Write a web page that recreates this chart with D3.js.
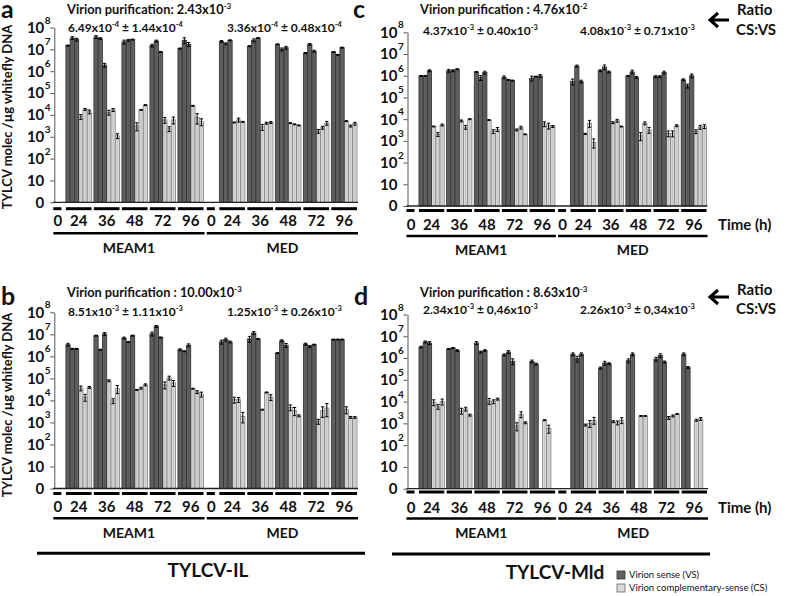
<!DOCTYPE html>
<html><head><meta charset="utf-8">
<script src="https://cdn.jsdelivr.net/npm/d3@7"></script>
<style>
body{margin:0;background:#fff}
svg{display:block}
text{font-family:Lato,"Open Sans",sans-serif;font-weight:700;fill:#111}
</style>
</head><body>
<svg id="chart" width="787" height="596"></svg>
<script>
// ---------- categories & tick labels ----------
const populations = ["MEAM1", "MED"];
const times = ["24", "36", "48", "72", "96"];
const timeLabels = ["0", "24", "36", "48", "72", "96"];
const yTicks = [1, 10, 1e2, 1e3, 1e4, 1e5, 1e6, 1e7, 1e8];
const yTickBase = ["0", "10", "10", "10", "10", "10", "10", "10", "10"];
const yTickSup = ["", "", "2", "3", "4", "5", "6", "7", "8"];
const seriesNames = ["Virion sense (VS)", "Virion complementary-sense (CS)"];

// ---------- values: 3 replicates per time point (24,36,48,72,96) ----------
// Panel a
const aMEAM1VS = [1.5e7,3.3e7,2.8e7, 3.7e7,3.1e7,1.9e6, 2.2e7,2.6e7,2.8e7, 1.5e7,2.4e7,7.6e6, 1.1e7,2.6e7,1.7e7];
const aMEAM1CS = [8.3e3,1.8e4,1.4e4, 1.3e4,1.7e4,1.1e3, 3.1e3,1.7e4,2.8e4, 5.9e3,2.3e3,5.9e3, 2.6e4,7.6e3,4.9e3];
const aMEDVS   = [2.3e7,1.8e7,2.6e7, 1.4e7,2.6e7,3.3e7, 1.7e7,1.0e7,1.2e7, 6.8e6,1.7e7,8.3e6, 7.6e6,5.6e6,1.2e7];
const aMEDCS   = [4.5e3,5.9e3,4.8e3, 2.8e3,4.2e3,4.5e3, 4.2e3,3.7e3,3.3e3, 1.8e3,2.6e3,4.2e3, 5.2e3,3.1e3,4.0e3];
// Panel b
const bMEAM1VS = [3.4e6,2.2e6,2.2e6, 8.7e6,2.0e6,1.05e7, 6.8e6,4.5e6,8.7e6, 1.05e7,2.3e7,7.2e6, 2.0e6,1.7e6,3.2e6];
const bMEAM1CS = [3.6e4,1.4e4,3.9e4, 7.8e4,9.5e3,3.4e4, 3.0e4,3.6e4,5.1e4, 5.1e4,1.05e5,6.2e4, 3.4e4,2.4e4,1.9e4];
const bMEDVS   = [4.5e6,5.8e6,4.5e6, 6.2e6,1.15e7,6.2e6, 1.4e6,5.1e6,3.2e6, 3.6e6,2.8e6,3.4e6, 5.8e6,5.8e6,5.8e6];
const bMEDCS   = [1.07e4,1.07e4,1.9e3, 3.8e3,2.3e4,1.4e4, 4.8e3,3.4e3,2.0e3, 1.1e3,3.4e3,4.5e3, 3.8e3,1.7e3,1.7e3];
// Panel c
const cMEAM1VS = [9.8e5,9.8e5,1.7e6, 1.7e6,1.7e6,2.0e6, 1.5e6,8.1e5,1.4e6, 8.5e5,6.5e5,6.0e5, 7.6e5,9.1e5,9.8e5];
const cMEAM1CS = [4.6e3,2.0e3,5.4e3, 8.3e3,4.3e3,1.0e4, 9.1e3,2.7e3,3.4e3, 3.2e3,4.1e3,2.0e3, 6.0e3,5.0e3,4.6e3];
const cMEDVS   = [5.4e5,2.8e6,5.4e5, 1.7e6,2.5e6,1.5e6, 9.8e5,1.5e6,8.5e5, 9.1e5,9.1e5,1.4e6, 6.5e5,3.4e5,1.0e6];
const cMEDCS   = [2.1e3,6.5e3,8.5e2, 6.9e3,8.5e3,4.6e3, 1.7e3,6.5e3,3.2e3, 2.2e3,2.2e3,5.0e3, 2.7e3,4.3e3,4.6e3];
// Panel d
const dMEAM1VS = [3.2e6,5.5e6,4.9e6, 2.6e6,2.9e6,2.2e6, 4.9e6,1.9e6,2.2e6, 1.4e6,1.9e6,7.1e5, 7.0e5,5.3e5,null];
const dMEAM1CS = [9.3e3,5.9e3,1.0e4, 3.8e3,4.6e3,2.4e3, 1.07e4,1.0e4,1.3e4, 7.6e2,2.6e3,1.07e3, 1.4e3,5.9e2,null];
const dMEDVS   = [1.5e6,9.3e5,1.5e6, 3.5e5,5.9e5,5.5e5, 7.6e5,1.5e6,null, 9.0e5,1.3e6,6.6e5, 1.5e6,3.7e5,null];
const dMEDCS   = [8.4e2,1.0e3,1.4e3, 1.2e3,1.07e3,1.4e3, 2.2e3,2.2e3,null, 1.8e3,2.2e3,2.7e3, 1.4e3,1.6e3,null];

// ---------- relative standard errors (fraction of value) ----------
const aMEAM1VSerr = [.05,.15,.15, .15,.1,.2, .2,.1,.05, .15,.1,.05, .05,.3,.2];
const aMEAM1CSerr = [.25,.1,.2, .25,.15,.25, .4,.05,.05, .3,.25,.35, .05,.5,.35];
const aMEDVSerr   = [.1,.1,.05, .05,.15,.05, .05,.15,.15, .05,.1,.1, .05,.05,.05];
const aMEDCSerr   = [.05,.2,.05, .3,.1,.1, .05,.05,.05, .2,.15,.2, .05,.1,.15];
const bMEAM1VSerr = [.15,.05,.05, .05,.05,.15, .1,.05,.05, .2,.1,.05, .1,.05,.15];
const bMEAM1CSerr = [.25,.35,.1, .1,.25,.4, .05,.1,.1, .35,.2,.3, .05,.15,.25];
const bMEDVSerr   = [.2,.15,.1, .3,.15,.05, .05,.1,.2, .1,.1,.05, .05,.05,.05];
const bMEDCSerr   = [.3,.25,.5, .05,.05,.3, .3,.4,.1, .25,.5,.6, .35,.1,.1];
const cMEAM1VSerr = [.05,.05,.1, .15,.1,.05, .05,.25,.15, .15,.05,.05, .25,.05,.15];
const cMEAM1CSerr = [.05,.2,.1, .1,.2,.05, .05,.2,.2, .1,.15,.05, .25,.3,.1];
const cMEDVSerr   = [.3,.1,.15, .1,.25,.1, .05,.2,.1, .1,.1,.15, .1,.2,.2];
const cMEDCSerr   = [.05,.35,.45, .1,.15,.05, .4,.15,.3, .3,.3,.1, .2,.2,.2];
const dMEAM1VSerr = [.1,.1,.15, .05,.05,.1, .15,.1,.1, .1,.15,.3, .15,.1,null];
const dMEAM1CSerr = [.3,.25,.3, .3,.2,.1, .3,.2,.1, .4,.3,.1, .05,.4,null];
const dMEDVSerr   = [.15,.3,.15, .1,.2,.1, .2,.15,null, .2,.2,.1, .15,.1,null];
const dMEDCSerr   = [.1,.35,.35, .1,.2,.3, .05,.05,null, .15,.1,.05, .1,.15,null];

// ---------- annotation texts ----------
const purificationTexts = ["Virion purification: 2.43x10^{-3}", "Virion purification : 10.00x10^{-3}",
                           "Virion purification : 4.76x10^{-2}", "Virion purification : 8.63x10^{-3}"];
const ratioTexts = [
  ["6.49x10^{-4} ± 1.44x10^{-4}", "3.36x10^{-4} ± 0.48x10^{-4}"],
  ["8.51x10^{-3} ± 1.11x10^{-3}", "1.25x10^{-3} ± 0.26x10^{-3}"],
  ["4.37x10^{-3} ± 0.40x10^{-3}", "4.08x10^{-3} ± 0.71x10^{-3}"],
  ["2.34x10^{-3} ± 0,46x10^{-3}", "2.26x10^{-3} ± 0,34x10^{-3}"]
];
const virusNames = ["TYLCV-IL", "TYLCV-Mld"];
const panelLetters = ["a", "b", "c", "d"];

// ---------- drawing ----------
const svg = d3.select("#chart");
const DARK = "#626262", LIGHT = "#dadada";

function rich(t, str, size) {
  const sup = size * 0.62;
  let raised = false;
  str.split(/(\^\{[^}]*\})/).filter(Boolean).forEach(p => {
    if (p.startsWith("^{")) {
      t.append("tspan").attr("font-size", sup).attr("dy", -size * 0.42).text(p.slice(2, -1));
      raised = true;
    } else {
      t.append("tspan").attr("font-size", size).attr("dy", raised ? size * 0.42 : 0).text(p);
      raised = false;
    }
  });
}

const panels = [
  {vs:[aMEAM1VS,aMEDVS], cs:[aMEAM1CS,aMEDCS], vsE:[aMEAM1VSerr,aMEDVSerr], csE:[aMEAM1CSerr,aMEDCSerr],
   x0:53.3, x1:357, yTop:27.5, yBase:202.3, seg:208.7, lab:221, brk:233.3, pop:248,
   title:[67,14], ratio:[[68,32],[227,32]], letter:[1,18], yTitle:117, time:null},
  {vs:[bMEAM1VS,bMEDVS], cs:[bMEAM1CS,bMEDCS], vsE:[bMEAM1VSerr,bMEDVSerr], csE:[bMEAM1CSerr,bMEDCSerr],
   x0:53.3, x1:357, yTop:312.3, yBase:488.5, seg:493.5, lab:506.7, brk:518.3, pop:533,
   title:[67,297], ratio:[[68,316],[227,316]], letter:[1,305], yTitle:405, time:null},
  {vs:[cMEAM1VS,cMEDVS], cs:[cMEAM1CS,cMEDCS], vsE:[cMEAM1VSerr,cMEDVSerr], csE:[cMEAM1CSerr,cMEDCSerr],
   x0:406.5, x1:706.5, yTop:32.3, yBase:206, seg:210.5, lab:225, brk:236, pop:250,
   title:[420,14], ratio:[[423,35],[580,35]], letter:[353,18], yTitle:null, time:225},
  {vs:[dMEAM1VS,dMEDVS], cs:[dMEAM1CS,dMEDCS], vsE:[dMEAM1VSerr,dMEDVSerr], csE:[dMEAM1CSerr,dMEDCSerr],
   x0:406.5, x1:707, yTop:314.5, yBase:488.7, seg:492, lab:508, brk:518.5, pop:533,
   title:[420,297], ratio:[[423,314],[580,314]], letter:[354,305], yTitle:null, time:507.5}
];

// unit layout of the category axis
const zeroW = 1.9, zeroGap = 1.05, groupGap = 0.56, popGap = 0.75, nRep = 3;
const popW = zeroW + zeroGap + times.length * 2 * nRep + (times.length - 1) * groupGap;
const totalU = populations.length * popW + (populations.length - 1) * popGap;
const popStart = p => p * (popW + popGap);
const groupStart = (p, g) => popStart(p) + zeroW + zeroGap + g * (2 * nRep + groupGap);

panels.forEach((P, pi) => {
  const g = svg.append("g");
  const x = d3.scaleLinear().domain([0, totalU]).range([P.x0, P.x1]);
  const y = d3.scaleLog().domain([1, 1e8]).range([P.yBase, P.yTop]);
  const bw = x(1) - x(0);

  // y axis (ticks + line)
  const ax = g.append("g").attr("transform", `translate(${P.x0 + 1},0)`)
    .call(d3.axisLeft(y).tickValues(yTicks).tickFormat("").tickSize(4).tickSizeOuter(0));
  ax.selectAll("path,line").attr("stroke", "#555").attr("stroke-width", 1);

  // y tick labels
  const lx = P.x0 - 9;
  yTicks.forEach((v, i) => {
    g.append("text").attr("x", lx).attr("y", y(v)).attr("dy", "0.36em")
      .attr("text-anchor", "end").attr("font-size", 15).text(yTickBase[i]);
    if (yTickSup[i]) g.append("text").attr("x", lx + 0.5).attr("y", y(v) - 4)
      .attr("font-size", 10).text(yTickSup[i]);
  });

  // bars
  const bars = [];
  populations.forEach((pop, p) => {
    times.forEach((t, ti) => {
      for (let r = 0; r < nRep; r++) {
        const k = ti * nRep + r;
        bars.push({v: P.vs[p][k], e: P.vsE[p][k], u: groupStart(p, ti) + r, s: 0});
        bars.push({v: P.cs[p][k], e: P.csE[p][k], u: groupStart(p, ti) + nRep + r, s: 1});
      }
    });
  });
  const valid = bars.filter(d => d.v != null);
  g.append("g").selectAll("rect").data(valid).join("rect")
    .attr("x", d => x(d.u)).attr("width", bw)
    .attr("y", d => y(d.v)).attr("height", d => P.yBase - y(d.v))
    .attr("fill", d => d.s ? LIGHT : DARK)
    .attr("stroke", d => d.s ? "#808080" : "#2e2e2e").attr("stroke-width", 0.8);
  // inner stripe to mimic texture
  g.append("g").selectAll("line").data(valid).join("line")
    .attr("x1", d => x(d.u + 0.5)).attr("x2", d => x(d.u + 0.5))
    .attr("y1", d => y(d.v) + 1).attr("y2", P.yBase)
    .attr("stroke", d => d.s ? "#bdbdbd" : "#575757").attr("stroke-width", 0.8);

  // error bars
  const eb = g.append("g").attr("stroke", "#000").attr("stroke-width", 1);
  valid.forEach(d => {
    const cx = x(d.u + 0.5);
    const hi = y(d.v * (1 + d.e)), lo = y(d.v * (1 - d.e));
    eb.append("line").attr("x1", cx).attr("x2", cx).attr("y1", hi).attr("y2", lo);
    eb.append("line").attr("x1", cx - bw * 0.38).attr("x2", cx + bw * 0.38).attr("y1", hi).attr("y2", hi);
    eb.append("line").attr("x1", cx - bw * 0.38).attr("x2", cx + bw * 0.38).attr("y1", lo).attr("y2", lo);
  });

  // baseline
  g.append("line").attr("x1", P.x0).attr("x2", P.x1 + 1).attr("y1", P.yBase).attr("y2", P.yBase)
    .attr("stroke", "#222").attr("stroke-width", 1.3);

  // category segments + time labels
  populations.forEach((pop, p) => {
    const segs = [[popStart(p), popStart(p) + zeroW]];
    times.forEach((t, ti) => segs.push([groupStart(p, ti), groupStart(p, ti) + 2 * nRep]));
    segs.forEach((s, si) => {
      g.append("line").attr("x1", x(s[0])).attr("x2", x(s[1]))
        .attr("y1", P.seg).attr("y2", P.seg).attr("stroke", "#000").attr("stroke-width", 3);
      g.append("text").attr("x", (x(s[0]) + x(s[1])) / 2 + (si === 0 ? 0.5 : 0)).attr("y", P.lab)
        .attr("dy", "0.36em").attr("text-anchor", "middle").attr("font-size", 15).text(timeLabels[si]);
    });
    const bx0 = x(popStart(p)), bx1 = x(popStart(p) + popW) + 1;
    g.append("line").attr("x1", bx0).attr("x2", bx1).attr("y1", P.brk).attr("y2", P.brk)
      .attr("stroke", "#000").attr("stroke-width", 2.5);
    g.append("text").attr("x", (bx0 + bx1) / 2).attr("y", P.pop).attr("dy", "0.36em")
      .attr("text-anchor", "middle").attr("font-size", 14).text(pop);
  });

  // titles
  rich(g.append("text").attr("x", P.title[0]).attr("y", P.title[1]), purificationTexts[pi], 12.8);
  P.ratio.forEach((r, ri) => rich(g.append("text").attr("x", r[0]).attr("y", r[1]), ratioTexts[pi][ri], 12));
  g.append("text").attr("x", P.letter[0]).attr("y", P.letter[1]).attr("font-size", 25).text(panelLetters[pi]);

  if (P.yTitle) {
    g.append("text").attr("transform", `translate(12,${P.yTitle}) rotate(-90)`)
      .attr("text-anchor", "middle").attr("font-size", 13).text("TYLCV molec /µg whitefly DNA");
  }
  if (P.time) {
    g.append("text").attr("x", 718).attr("y", P.time).attr("dy", "0.36em").attr("font-size", 15).text("Time (h)");
  }
});

// Ratio CS:VS annotations with arrows
[[20, 10, 30], [297, 290, 309]].forEach(([ay, r1, r2]) => {
  svg.append("path").attr("d", `M729,${ay} L711,${ay} M718,${ay - 7} L710,${ay} L718,${ay + 7}`)
    .attr("fill", "none").attr("stroke", "#000").attr("stroke-width", 3);
  svg.append("text").attr("x", 737).attr("y", r1).attr("dy", "0.36em").attr("font-size", 15).text("Ratio");
  svg.append("text").attr("x", 736).attr("y", r2).attr("dy", "0.36em").attr("font-size", 15).text("CS:VS");
});

// virus brackets
[[37, 365, 553.3, 208, 570.5], [392, 710, 554, 555, 572.5]].forEach(([a, b, ly, tx, ty], i) => {
  svg.append("line").attr("x1", a).attr("x2", b).attr("y1", ly).attr("y2", ly)
    .attr("stroke", "#000").attr("stroke-width", 3);
  svg.append("text").attr("x", tx).attr("y", ty).attr("dy", "0.36em").attr("text-anchor", "middle")
    .attr("font-size", 19).text(virusNames[i]);
});

// legend
const leg = svg.append("g");
seriesNames.forEach((n, i) => {
  const yy = [575, 588][i];
  leg.append("rect").attr("x", 617).attr("y", yy - 4).attr("width", 8).attr("height", 8)
    .attr("fill", i ? LIGHT : DARK).attr("stroke", i ? "#666" : "#333").attr("stroke-width", 0.8);
  leg.append("text").attr("x", 629).attr("y", yy).attr("dy", "0.35em").attr("font-size", 9.5)
    .style("font-weight", 400).attr("fill", "#222").text(n);
});
</script>
</body></html>
